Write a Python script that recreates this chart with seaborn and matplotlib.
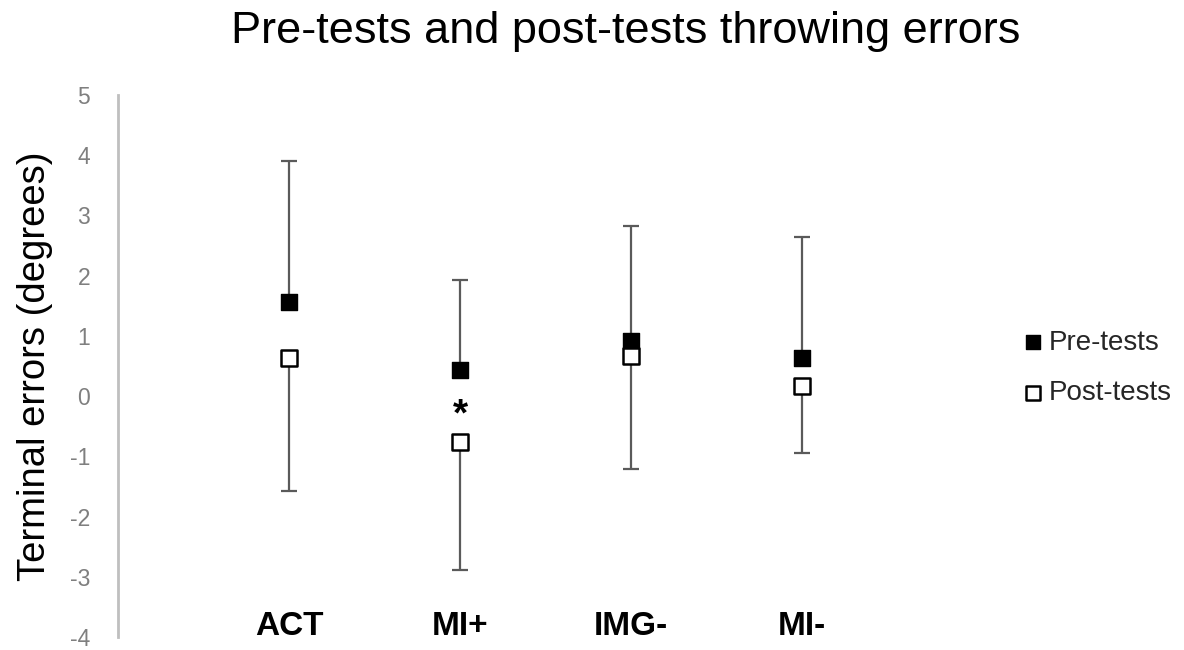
import numpy as np
import pandas as pd
import matplotlib
matplotlib.use("Agg")
import matplotlib.pyplot as plt
import seaborn as sns

# values
categories = ["ACT", "MI+", "IMG-", "MI-"]
pre_means = [1.57, 0.44, 0.92, 0.63]
post_means = [0.64, -0.77, 0.66, 0.17]
pre_sd = [2.34, 1.48, 1.91, 2.01]     # drawn upwards from pre
post_sd = [2.21, 2.11, 1.87, 1.12]    # drawn downwards from post
yticks = [-4, -3, -2, -1, 0, 1, 2, 3, 4, 5]

sns.set_style("white")
plt.rcParams['font.family'] = ['Liberation Sans', 'DejaVu Sans']

xpos = np.arange(1, len(categories) + 1)
df = pd.DataFrame({
    'x': np.concatenate([xpos, xpos]),
    'mean': pre_means + post_means,
    'Test': ['Pre-tests'] * len(categories) + ['Post-tests'] * len(categories),
})

fig = plt.figure(figsize=(11.84, 6.5), dpi=100)
ax = fig.add_axes([118 / 1184, 13 / 650, 855 / 1184, 542 / 650])

# one-sided error bars
ax.errorbar(xpos, pre_means, yerr=[np.zeros(len(pre_sd)), pre_sd], fmt='none',
            ecolor='#5a5a5a', elinewidth=1.6, capsize=5.5, capthick=1.6, zorder=1)
ax.errorbar(xpos, post_means, yerr=[post_sd, np.zeros(len(post_sd))], fmt='none',
            ecolor='#5a5a5a', elinewidth=1.6, capsize=5.5, capthick=1.6, zorder=1)

sns.scatterplot(data=df[df['Test'] == 'Pre-tests'], x='x', y='mean', ax=ax,
                marker='s', s=125, color='black', edgecolor='black', linewidth=1,
                zorder=3, label='Pre-tests')
sns.scatterplot(data=df[df['Test'] == 'Post-tests'], x='x', y='mean', ax=ax,
                marker='s', s=125, color='white', edgecolor='black', linewidth=1.8,
                zorder=4, label='Post-tests')

# significance marker
ax.text(xpos[1], -0.32, "*", ha='center', va='center', fontsize=28,
        fontweight='bold', color='black')

# category labels inside the plot bottom
for xp, cat in zip(xpos, categories):
    ax.text(xp, -3.83, cat, ha='center', va='center', fontsize=24,
            fontweight='bold', color='black')

ax.set_xlim(0, 5)
ax.set_ylim(-4, 5)
ax.set_yticks(yticks)
ax.set_yticklabels([str(t) for t in yticks])
ax.set_xticks([])
ax.tick_params(axis='y', length=0, pad=20, labelsize=16.5, labelcolor='#7f7f7f')
ax.set_xlabel("")
ax.set_ylabel("Terminal errors (degrees)", fontsize=27.5, color='black', labelpad=12)

for side in ['top', 'right', 'bottom']:
    ax.spines[side].set_visible(False)
ax.spines['left'].set_color('#bfbfbf')
ax.spines['left'].set_linewidth(2)

ax.legend(loc='center left', bbox_to_anchor=(995 / 1184, 1 - 368 / 650),
          bbox_transform=fig.transFigure, frameon=False, fontsize=20,
          handletextpad=0.12, handlelength=0.9, labelspacing=0.9, markerscale=0.9)

fig.text(626 / 1184, 1 - 32 / 650, "Pre-tests and post-tests throwing errors",
         ha='center', va='center', fontsize=32.5, color='black')

fig.savefig("out.png", dpi=100)
